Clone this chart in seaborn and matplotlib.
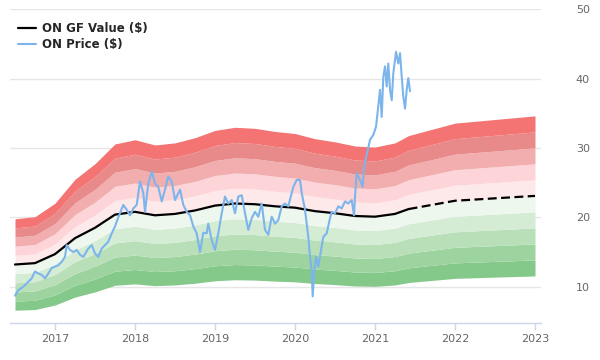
import matplotlib
matplotlib.use("Agg")
import matplotlib.pyplot as plt
import numpy as np
import pandas as pd
import seaborn as sns

# GF value (quarterly), solid part is history, dashed part is the projection
gf_dates = [2016.5, 2016.75, 2017.0, 2017.25, 2017.5, 2017.75, 2018.0, 2018.25,
            2018.5, 2018.75, 2019.0, 2019.25, 2019.5, 2019.75, 2020.0, 2020.25,
            2020.5, 2020.75, 2021.0, 2021.25, 2021.42, 2022.0, 2023.0]
gf_values = [13.2, 13.4, 14.7, 17.0, 18.5, 20.4, 20.8, 20.3,
             20.5, 21.0, 21.7, 22.0, 21.9, 21.6, 21.4, 20.9,
             20.6, 20.2, 20.1, 20.5, 21.2, 22.4, 23.1]
gf_split = 2021.42

# ON share price
price_dates = [2016.5, 2016.541, 2016.604, 2016.666, 2016.709, 2016.75, 2016.791, 2016.834,
               2016.875, 2016.916, 2016.959, 2017.0, 2017.041, 2017.084, 2017.125, 2017.146,
               2017.188, 2017.229, 2017.271, 2017.313, 2017.354, 2017.416, 2017.459, 2017.5,
               2017.541, 2017.584, 2017.625, 2017.666, 2017.709, 2017.75, 2017.791, 2017.854,
               2017.896, 2017.938, 2017.979, 2018.021, 2018.063, 2018.104, 2018.125, 2018.166,
               2018.209, 2018.25, 2018.291, 2018.334, 2018.375, 2018.416, 2018.459, 2018.5,
               2018.563, 2018.604, 2018.646, 2018.688, 2018.729, 2018.771, 2018.813, 2018.854,
               2018.896, 2018.916, 2018.959, 2019.0, 2019.041, 2019.084, 2019.125, 2019.166,
               2019.209, 2019.25, 2019.291, 2019.334, 2019.375, 2019.416, 2019.459, 2019.5,
               2019.541, 2019.584, 2019.625, 2019.666, 2019.709, 2019.75, 2019.791, 2019.834,
               2019.875, 2019.916, 2019.959, 2019.979, 2020.021, 2020.063, 2020.084, 2020.125,
               2020.166, 2020.188, 2020.209, 2020.221, 2020.238, 2020.263, 2020.291, 2020.334,
               2020.354, 2020.396, 2020.438, 2020.459, 2020.5, 2020.541, 2020.584, 2020.625,
               2020.666, 2020.709, 2020.738, 2020.75, 2020.771, 2020.813, 2020.846, 2020.863,
               2020.896, 2020.938, 2020.979, 2021.013, 2021.041, 2021.063, 2021.084, 2021.104,
               2021.125, 2021.146, 2021.166, 2021.188, 2021.209, 2021.229, 2021.263, 2021.291,
               2021.313, 2021.334, 2021.354, 2021.375, 2021.396, 2021.416, 2021.438]
price_values = [8.7, 9.5, 10.0, 10.7, 11.2, 12.2, 11.9, 11.7,
                11.2, 11.9, 12.7, 12.9, 13.1, 13.6, 14.3, 16.0,
                15.3, 15.0, 15.3, 14.6, 14.3, 15.5, 16.0, 14.8,
                14.3, 15.5, 16.0, 16.5, 17.7, 18.7, 20.0, 21.8,
                21.1, 20.3, 21.3, 21.8, 25.2, 23.5, 20.8, 24.9,
                26.6, 24.9, 24.4, 22.3, 24.0, 25.9, 25.2, 22.5,
                24.0, 21.8, 20.8, 20.3, 18.7, 17.7, 15.0, 17.8,
                17.7, 19.1, 16.7, 15.3, 17.7, 20.6, 23.0, 22.0,
                22.5, 20.6, 23.0, 23.2, 20.6, 18.2, 19.9, 20.8,
                20.1, 22.0, 18.2, 17.5, 20.1, 19.1, 19.6, 21.6,
                22.0, 21.6, 23.5, 24.4, 25.4, 25.4, 23.5, 21.1,
                17.2, 14.3, 12.4, 8.6, 11.9, 14.3, 12.9, 15.8,
                17.2, 17.7, 19.9, 20.8, 20.6, 21.6, 21.3, 22.3,
                22.0, 22.5, 20.3, 23.0, 26.4, 25.4, 24.4, 27.3,
                29.0, 31.2, 31.9, 33.1, 36.0, 38.4, 34.5, 40.3,
                41.8, 38.9, 42.2, 38.4, 36.9, 40.8, 43.9, 42.2,
                43.7, 40.3, 37.4, 35.7, 38.4, 40.1, 38.2]

band_steps = [0.5, 0.6, 0.7, 0.8, 0.9, 1.0, 1.1, 1.2, 1.3, 1.4, 1.5]
band_colors = ["#85c98a", "#9dd39f", "#b9dfb9", "#d4ebd4", "#eef7ee",
               "#fde8ea", "#fdd4d8", "#f2aeae", "#e88a8a", "#f47373"]

year_ticks = [2017, 2018, 2019, 2020, 2021, 2022, 2023]
value_ticks = [10, 20, 30, 40, 50]

sns.set_style("white")
plt.rcParams["font.family"] = ["DejaVu Sans"]

fig = plt.figure(figsize=(6, 3.6), dpi=100)
ax = fig.add_axes([10 / 600, 1 - 323 / 360, 531 / 600, 314 / 360])

gf = np.array(gf_values)
for i in range(len(band_colors)):
    ax.fill_between(gf_dates, gf * band_steps[i], gf * band_steps[i + 1],
                    color=band_colors[i], linewidth=0, zorder=1)

gf_df = pd.DataFrame({"date": gf_dates, "value": gf_values})
hist = gf_df[gf_df["date"] <= gf_split]
proj = gf_df[gf_df["date"] >= gf_split]
price_df = pd.DataFrame({"date": price_dates, "price": price_values})

sns.lineplot(data=hist, x="date", y="value", color="black", linewidth=1.6,
             label="ON GF Value ($)", ax=ax, zorder=3)
sns.lineplot(data=proj, x="date", y="value", color="black", linewidth=1.6,
             linestyle=(0, (4, 2)), ax=ax, zorder=3)
sns.lineplot(data=price_df, x="date", y="price", color="#7cb5ec", linewidth=1.5,
             label="ON Price ($)", ax=ax, zorder=4)

ax.set_xlim(2016.4375, 2023.075)
ax.set_ylim(4.76, 50.07)
ax.set_xlabel("")
ax.set_ylabel("")

ax.set_xticks(year_ticks)
ax.set_xticklabels([str(y) for y in year_ticks])
ax.set_yticks(value_ticks)
ax.yaxis.tick_right()
ax.tick_params(axis="y", length=0, pad=25, labelsize=8, labelcolor="#666666")
ax.tick_params(axis="x", length=5, width=1, color="#ccd6eb", pad=3,
               labelsize=8, labelcolor="#666666", direction="out", bottom=True)
for lbl in ax.get_yticklabels():
    lbl.set_horizontalalignment("left")

ax.grid(axis="y", color="#e6e6e6", linewidth=1, zorder=0)
ax.grid(axis="x", visible=False)
ax.set_axisbelow(True)
for side in ["top", "right", "left"]:
    ax.spines[side].set_visible(False)
ax.spines["bottom"].set_color("#ccd6eb")
ax.spines["bottom"].set_linewidth(1)

ax.legend(loc="upper left", bbox_to_anchor=(0.0, 0.985), frameon=False,
          handlelength=1.5, handletextpad=0.5, labelspacing=0.25,
          prop={"weight": "bold", "size": 8.5}, borderaxespad=0.3)

fig.savefig("out.png", dpi=100)
